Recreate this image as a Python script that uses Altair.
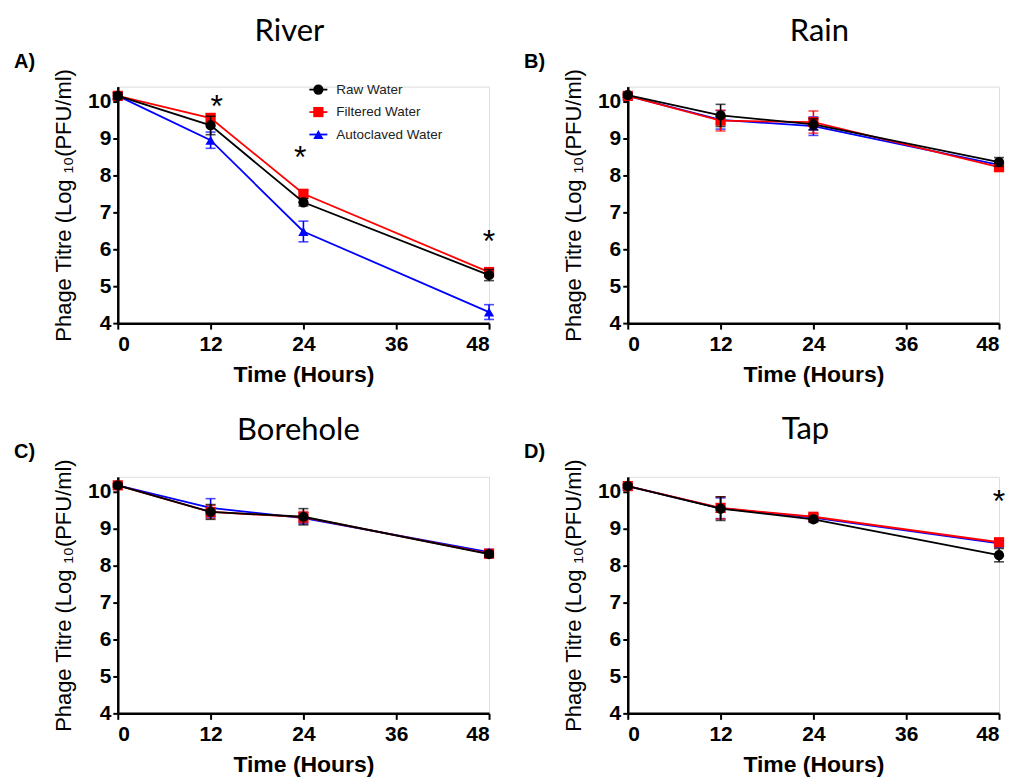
import altair as alt
import pandas as pd

TIMES = [0, 12, 24, 48]
SERIES = ["Raw Water", "Filtered Water", "Autoclaved Water"]
COLORS = ["#000000", "#ff0000", "#0000ff"]
SHAPES = ["circle", "square", "triangle-up"]
DRAW_ORDER = ["Autoclaved Water", "Filtered Water", "Raw Water"]

# River
RIVER_RAW = [10.15, 9.35, 7.27, 5.30]
RIVER_RAW_ERR = [0.08, 0.25, 0.10, 0.15]
RIVER_FIL = [10.15, 9.55, 7.50, 5.38]
RIVER_FIL_ERR = [0.08, 0.12, 0.08, 0.12]
RIVER_AUT = [10.15, 8.95, 6.48, 4.30]
RIVER_AUT_ERR = [0.08, 0.22, 0.28, 0.20]
RIVER_STAR_T = [12.8, 23.6, 48]
RIVER_STAR_Y = [10.08, 8.72, 6.45]

# Rain
RAIN_RAW = [10.17, 9.62, 9.38, 8.36]
RAIN_RAW_ERR = [0.05, 0.30, 0.15, 0.12]
RAIN_FIL = [10.15, 9.48, 9.44, 8.22]
RAIN_FIL_ERR = [0.05, 0.28, 0.30, 0.08]
RAIN_AUT = [10.15, 9.50, 9.33, 8.28]
RAIN_AUT_ERR = [0.05, 0.25, 0.25, 0.08]

# Borehole
BORE_RAW = [10.17, 9.45, 9.32, 8.31]
BORE_RAW_ERR = [0.05, 0.20, 0.22, 0.08]
BORE_FIL = [10.17, 9.45, 9.31, 8.32]
BORE_FIL_ERR = [0.05, 0.18, 0.15, 0.08]
BORE_AUT = [10.17, 9.56, 9.28, 8.36]
BORE_AUT_ERR = [0.05, 0.25, 0.15, 0.08]

# Tap
TAP_RAW = [10.15, 9.54, 9.25, 8.28]
TAP_RAW_ERR = [0.05, 0.32, 0.08, 0.18]
TAP_FIL = [10.15, 9.56, 9.32, 8.63]
TAP_FIL_ERR = [0.05, 0.30, 0.08, 0.06]
TAP_AUT = [10.15, 9.55, 9.30, 8.60]
TAP_AUT_ERR = [0.05, 0.28, 0.08, 0.06]
TAP_STAR_T = [48]
TAP_STAR_Y = [9.95]

W, H = 372, 237
LABEL_FONT = "Liberation Sans"
TITLE_FONT = "Lato"

# legend placement inside panel A (pixels from plot origin)
LEG_X = 201
LEG_Y0 = 3
LEG_DY = 22.5

color_scale = alt.Scale(domain=SERIES, range=COLORS)
shape_scale = alt.Scale(domain=SERIES, range=SHAPES)

x_enc = alt.X(
    "t:Q",
    scale=alt.Scale(domain=[0, 48], nice=False),
    axis=alt.Axis(
        values=[0, 12, 24, 36, 48], title="Time (Hours)", grid=False,
        labelFont=LABEL_FONT, labelFontSize=21, labelFontWeight="bold",
        titleFont=LABEL_FONT, titleFontSize=23, titleFontWeight="bold",
        tickSize=6, tickWidth=2, domainWidth=2.5, labelPadding=4, titlePadding=9,
        domainColor="black", tickColor="black", labelColor="black", titleColor="black",
    ),
)


def y_enc(field):
    return alt.Y(
        f"{field}:Q",
        scale=alt.Scale(domain=[4, 10.4], nice=False, zero=False),
        axis=alt.Axis(
            values=[4, 5, 6, 7, 8, 9, 10], title="Phage Titre (Log \u2081\u2080(PFU/ml)",
            grid=False, labelFont=LABEL_FONT, labelFontSize=21, labelFontWeight="bold",
            titleFont=LABEL_FONT, titleFontSize=22, titleFontWeight="normal",
            tickSize=5, tickWidth=2, domainWidth=2.5, labelPadding=2, titlePadding=12,
            domainColor="black", tickColor="black", labelColor="black", titleColor="black",
        ),
    )


def legend_layers():
    out = []
    for i, (s, c, sh) in enumerate(zip(SERIES, COLORS, SHAPES)):
        yy = LEG_Y0 + i * LEG_DY
        ldf = pd.DataFrame({"lab": [s]})
        b = alt.Chart(ldf)
        out.append(b.mark_rule(color=c, strokeWidth=1.8).encode(
            x=alt.value(LEG_X - 9), x2=alt.value(LEG_X + 9), y=alt.value(yy)))
        out.append(b.mark_point(filled=True, size=105, opacity=1, color=c, shape=sh).encode(
            x=alt.value(LEG_X), y=alt.value(yy)))
        out.append(b.mark_text(font=LABEL_FONT, fontSize=13.5, color="#222", align="left",
                               baseline="middle").encode(
            text="lab:N", x=alt.value(LEG_X + 18), y=alt.value(yy)))
    return out


def make_panel(name, letter, data, stars, dx, title_y, show_legend):
    layers = []
    for s in DRAW_ORDER:
        vals, errs = data[s]
        df = pd.DataFrame({
            "t": TIMES, "v": vals,
            "lo": [a - b for a, b in zip(vals, errs)],
            "hi": [a + b for a, b in zip(vals, errs)],
            "series": [s] * len(TIMES),
        })
        base = alt.Chart(df)
        col = alt.Color("series:N", scale=color_scale, legend=None)
        shp = alt.Shape("series:N", scale=shape_scale, legend=None)
        layers.append(base.mark_line(strokeWidth=1.8).encode(x=x_enc, y=y_enc("v"), color=col))
        layers.append(base.mark_rule(strokeWidth=1.6).encode(x=x_enc, y=y_enc("lo"), y2="hi:Q", color=col))
        layers.append(base.mark_tick(orient="horizontal", size=10, thickness=1.6).encode(
            x=x_enc, y=y_enc("lo"), color=col))
        layers.append(base.mark_tick(orient="horizontal", size=10, thickness=1.6).encode(
            x=x_enc, y=y_enc("hi"), color=col))
        layers.append(base.mark_point(filled=True, size=105, opacity=1).encode(
            x=x_enc, y=y_enc("v"), color=col, shape=shp))
    if stars is not None:
        sdf = pd.DataFrame({"t": stars[0], "v": stars[1]})
        layers.append(alt.Chart(sdf).mark_text(
            text="*", fontSize=32, font=LABEL_FONT, color="black", baseline="middle", dy=9
        ).encode(x=x_enc, y=y_enc("v")))
    if show_legend:
        layers.extend(legend_layers())
    ldf = pd.DataFrame({"lab": [letter], "name": [name]})
    layers.append(alt.Chart(ldf).mark_text(
        font=LABEL_FONT, fontSize=20, fontWeight="bold", align="left", baseline="middle", color="black"
    ).encode(text="lab:N", x=alt.value(-104), y=alt.value(-25)))
    layers.append(alt.Chart(ldf).mark_text(
        font=TITLE_FONT, fontSize=31, fontWeight="normal", align="center", baseline="alphabetic",
        color="black"
    ).encode(text="name:N", x=alt.value(W / 2 + dx), y=alt.value(title_y)))
    return alt.layer(*layers).properties(width=W, height=H)


pA = make_panel("River", "A)", {
    "Raw Water": (RIVER_RAW, RIVER_RAW_ERR),
    "Filtered Water": (RIVER_FIL, RIVER_FIL_ERR),
    "Autoclaved Water": (RIVER_AUT, RIVER_AUT_ERR)},
    (RIVER_STAR_T, RIVER_STAR_Y), -14, -46, True)
pB = make_panel("Rain", "B)", {
    "Raw Water": (RAIN_RAW, RAIN_RAW_ERR),
    "Filtered Water": (RAIN_FIL, RAIN_FIL_ERR),
    "Autoclaved Water": (RAIN_AUT, RAIN_AUT_ERR)},
    None, 6, -46, False)
pC = make_panel("Borehole", "C)", {
    "Raw Water": (BORE_RAW, BORE_RAW_ERR),
    "Filtered Water": (BORE_FIL, BORE_FIL_ERR),
    "Autoclaved Water": (BORE_AUT, BORE_AUT_ERR)},
    None, -5, -37, False)
pD = make_panel("Tap", "D)", {
    "Raw Water": (TAP_RAW, TAP_RAW_ERR),
    "Filtered Water": (TAP_FIL, TAP_FIL_ERR),
    "Autoclaved Water": (TAP_AUT, TAP_AUT_ERR)},
    (TAP_STAR_T, TAP_STAR_Y), -8, -38, False)

chart = alt.concat(pA, pB, pC, pD, columns=2, spacing={"row": 26, "column": 27}).resolve_scale(
    color="independent", shape="independent"
).properties(
    padding={"left": 5, "right": 5, "top": 6, "bottom": 2}
).configure_view(
    stroke=None
).configure(background="white")

chart.save("out.html", embed_options={"renderer": "svg", "actions": False})
